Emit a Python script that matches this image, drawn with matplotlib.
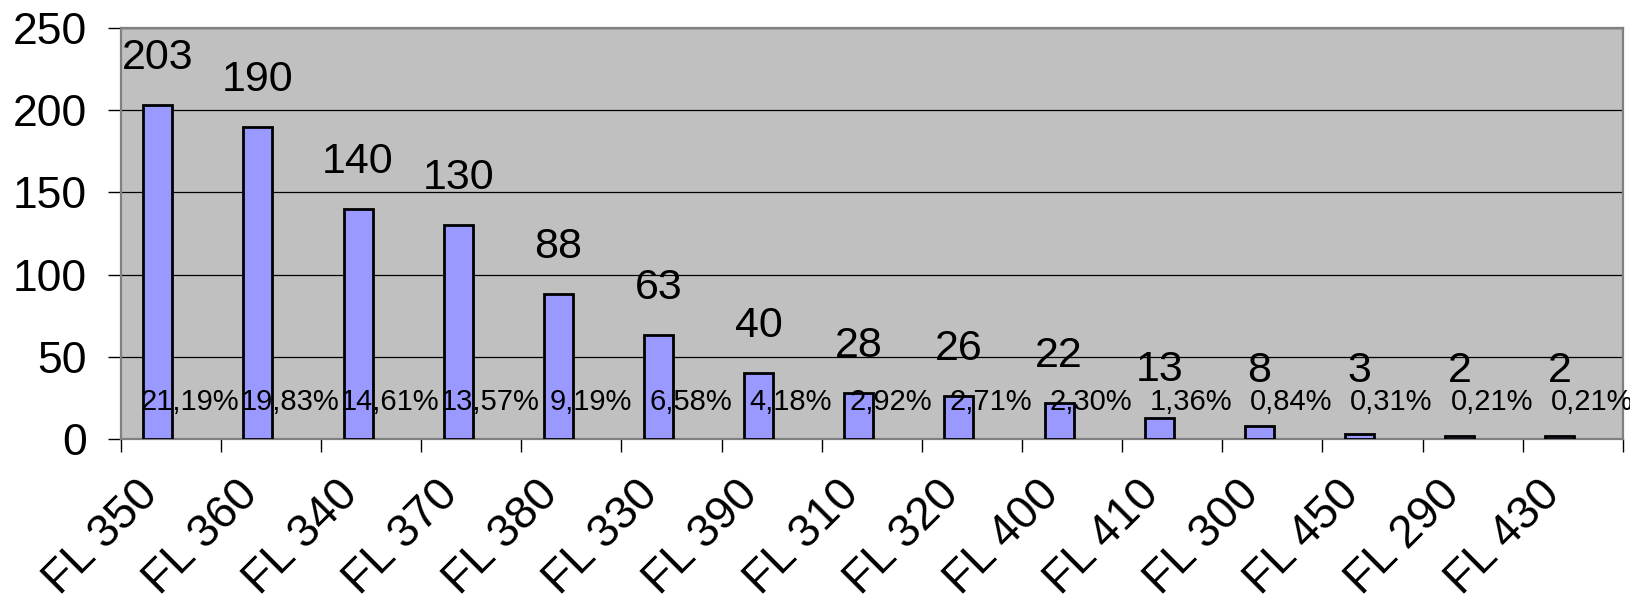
import matplotlib.pyplot as plt
import numpy as np
from matplotlib.transforms import ScaledTranslation

levels = ['FL 350', 'FL 360', 'FL 340', 'FL 370', 'FL 380', 'FL 330', 'FL 390',
          'FL 310', 'FL 320', 'FL 400', 'FL 410', 'FL 300', 'FL 450', 'FL 290', 'FL 430']
counts = [203, 190, 140, 130, 88, 63, 40, 28, 26, 22, 13, 8, 3, 2, 2]
percents = ['21,19%', '19,83%', '14,61%', '13,57%', '9,19%', '6,58%', '4,18%', '2,92%',
            '2,71%', '2,30%', '1,36%', '0,84%', '0,31%', '0,21%', '0,21%']

plt.rcParams['font.family'] = ['Liberation Sans', 'DejaVu Sans']

fig = plt.figure(figsize=(16.31, 6.13), dpi=100)
ax = fig.add_axes([0.074, 0.284, 0.921, 0.67])
ax.set_facecolor('#C0C0C0')

x = np.arange(len(levels))
ax.bar(x - 0.13, counts, width=0.29, color='#9999FF', edgecolor='black', linewidth=2, zorder=3)

for xi, c, p in zip(x, counts, percents):
        ax.annotate(str(c), (xi - 0.13, max(c, 12.5)), xytext=(0, 26), textcoords='offset points',
                    ha='center', va='baseline', fontsize=31, zorder=4)
        ax.text(xi + 0.19, 22.5, p, ha='center', va='center', fontsize=21, zorder=4)

ax.set_xlim(-0.5, len(levels) - 0.5)
ax.set_ylim(0, 250)
ax.set_yticks([0, 50, 100, 150, 200, 250])
ax.yaxis.grid(True, color='black', linewidth=0.9, zorder=1)
ax.set_axisbelow(True)

ax.set_xticks(x)
ax.set_xticklabels(levels, rotation=45, ha='right', va='center', rotation_mode='anchor')
ax.set_xticks(np.arange(len(levels) + 1) - 0.5, minor=True)
ax.tick_params(axis='x', which='major', length=0, pad=35, labelsize=33)
ax.tick_params(axis='x', which='minor', length=9.5, width=1, color='black', direction='out')
ax.tick_params(axis='y', length=9.5, width=1, color='black', pad=15, labelsize=32)

shift = ScaledTranslation(-0.2, 0, fig.dpi_scale_trans)
for lbl in ax.get_xticklabels():
        lbl.set_transform(lbl.get_transform() + shift)

for s in ax.spines.values():
        s.set_color('#808080')
        s.set_linewidth(1.6)

fig.savefig('out.png', dpi=100)
